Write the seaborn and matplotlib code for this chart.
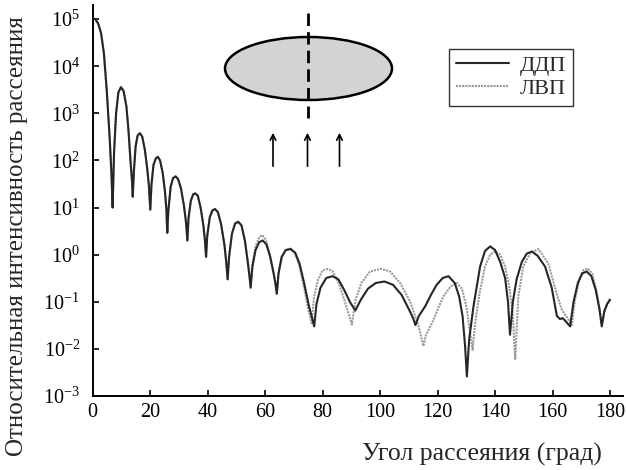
import numpy as np
import pandas as pd
import matplotlib
matplotlib.use('Agg')
import matplotlib.pyplot as plt
from matplotlib.patches import Ellipse
from matplotlib.ticker import NullLocator
import seaborn as sns

# Data (angle in degrees, relative intensity)
# both curves coincide up to ~55 degrees
angle_common = [0, 1, 2, 3, 4, 5, 6, 6.6, 7.0, 7.5, 8.2, 9.0, 9.9, 10.8, 11.8, 12.5, 13.2, 13.7, 14.0,
                14.4, 15.0, 15.7, 16.5, 17.3, 18.2, 19.0, 19.6, 20.1, 20.5, 21.2, 22.0, 22.7, 23.5, 24.4,
                25.2, 25.7, 26.0, 26.4, 27.2, 28.0, 28.9, 29.8, 30.8, 31.8, 32.5, 33.0, 33.4, 34.2, 35.0,
                35.7, 36.6, 37.6, 38.6, 39.1, 39.5, 39.9, 40.8, 41.7, 42.6, 43.6, 44.7, 45.9, 46.5, 47.0,
                47.5, 48.5, 49.6, 50.7, 51.8, 53.0, 54.0, 54.6, 55.0]
intensity_common = [1.05e5, 1.0e5, 8.0e4, 5.0e4, 1.8e4, 2.8e3, 2.8e2, 50, 10, 150, 1000, 2800, 3600, 3000,
                    1400, 450, 100, 40, 17, 60, 200, 340, 380, 320, 170, 70, 30, 9, 30, 80, 110, 120, 100,
                    55, 22, 9, 2.9, 9, 28, 42, 46, 40, 25, 11, 5, 2.0, 6, 14, 19, 20, 18, 10, 4, 2, 0.9,
                    2.5, 6.3, 8.7, 9.3, 8.0, 4.5, 1.6, 0.7, 0.3, 0.9, 2.8, 4.6, 5.0, 4.2, 2.0, 0.7, 0.35,
                    0.2]

angle_ddp_tail = [55.6, 56.7, 58.0, 59.2, 60.5, 61.8, 63.0, 63.6, 64.1, 64.7, 65.8, 67.2, 68.9, 70.5,
                  72.0, 73.6, 75.3, 76.4, 77.1, 77.9, 79.3, 81.3, 83.5, 85.5, 87.5, 89.5, 91.4, 93.3,
                  95.8, 98.5, 101.5, 104.5, 107.5, 110.0, 111.5, 112.3, 113.5, 115.7, 117.7, 119.7,
                  121.8, 123.8, 126.0, 127.5, 128.7, 129.6, 130.2, 131.0, 132.5, 134.8, 136.5, 138.3,
                  140.0, 141.8, 143.5, 144.5, 145.2, 146.2, 147.5, 149.3, 151.0, 152.8, 154.8, 157.4,
                  159.7, 161.5, 162.6, 163.5, 164.5, 166.1, 167.3, 168.8, 170.3, 171.9, 173.5, 175.0,
                  176.3, 177.1, 178.0, 179.0, 180.0]
intensity_ddp_tail = [0.55, 1.25, 1.85, 2.0, 1.65, 0.9, 0.4, 0.25, 0.15, 0.4, 0.9, 1.25, 1.32, 1.1,
                      0.65, 0.25, 0.08, 0.045, 0.03, 0.09, 0.2, 0.32, 0.35, 0.3, 0.18, 0.1, 0.065, 0.11,
                      0.19, 0.25, 0.27, 0.23, 0.14, 0.07, 0.045, 0.032, 0.05, 0.08, 0.14, 0.23, 0.32,
                      0.35, 0.25, 0.13, 0.05, 0.011, 0.0026, 0.016, 0.08, 0.56, 1.2, 1.5, 1.26, 0.7,
                      0.32, 0.1, 0.02, 0.1, 0.3, 0.7, 1.05, 1.17, 0.95, 0.56, 0.2, 0.05, 0.043, 0.045,
                      0.039, 0.03, 0.1, 0.25, 0.4, 0.44, 0.35, 0.18, 0.07, 0.03, 0.063, 0.09, 0.11]

angle_lvp_tail = [55.6, 56.7, 58.0, 59.0, 60.3, 61.7, 63.0, 63.6, 64.1, 64.7, 65.8, 67.2, 68.9, 70.5,
                  72.0, 73.6, 75.2, 76.2, 77.0, 78.3, 80.0, 81.7, 83.5, 85.6, 87.8, 89.3, 90.2, 91.5,
                  93.5, 96.5, 100.3, 103.5, 107.0, 110.5, 113.3, 115.1, 116.0, 118.5, 120.5, 122.0,
                  124.5, 126.7, 128.5, 130.0, 131.2, 132.2, 133.0, 134.5, 136.5, 138.3, 140.0, 141.8,
                  143.5, 145.0, 146.2, 147.0, 148.1, 149.8, 152.2, 155.1, 158.5, 161.4, 163.2, 165.5,
                  166.7, 167.8, 169.2, 170.7, 172.2, 173.8, 175.2, 176.4, 177.2, 178.0, 179.0, 180.0]
intensity_lvp_tail = [0.63, 1.5, 2.35, 2.6, 2.1, 1.0, 0.4, 0.25, 0.14, 0.4, 0.9, 1.26, 1.35, 1.05,
                      0.56, 0.2, 0.063, 0.035, 0.12, 0.28, 0.46, 0.5, 0.45, 0.25, 0.1, 0.05, 0.033,
                      0.11, 0.25, 0.44, 0.5, 0.44, 0.25, 0.1, 0.032, 0.0115, 0.02, 0.04, 0.08, 0.13,
                      0.21, 0.25, 0.19, 0.08, 0.025, 0.0095, 0.032, 0.14, 0.56, 1.0, 1.17, 1.0, 0.56,
                      0.2, 0.05, 0.0059, 0.13, 0.56, 1.07, 1.32, 0.66, 0.15, 0.068, 0.042, 0.032, 0.11,
                      0.28, 0.47, 0.51, 0.4, 0.18, 0.07, 0.032, 0.063, 0.09, 0.12]

series_labels = ['ДДП', 'ЛВП']
x_ticks = [0, 20, 40, 60, 80, 100, 120, 140, 160, 180]
y_ticks = [1e-3, 1e-2, 1e-1, 1e0, 1e1, 1e2, 1e3, 1e4, 1e5]

ddp = pd.DataFrame({'angle': angle_common + angle_ddp_tail,
                    'intensity': intensity_common + intensity_ddp_tail})
lvp = pd.DataFrame({'angle': angle_common + angle_lvp_tail,
                    'intensity': intensity_common + intensity_lvp_tail})

sns.set_style('ticks')
plt.rcParams['font.family'] = ['Liberation Serif', 'DejaVu Serif']
plt.rcParams['mathtext.fontset'] = 'stix'

W, H = 626, 470
fig = plt.figure(figsize=(W / 100, H / 100), dpi=100)
ax = fig.add_axes([92.5 / W, 1 - 396 / H, (623 - 92.5) / W, (396 - 5) / H])

sns.lineplot(data=ddp, x='angle', y='intensity', ax=ax, color='#262626', lw=1.5,
             label=series_labels[0], estimator=None, sort=False, zorder=3)
sns.lineplot(data=lvp, x='angle', y='intensity', ax=ax, color='#9a9a9a', lw=1.5,
             linestyle=(0, (1, 0.5)), label=series_labels[1], estimator=None, sort=False, zorder=2)

ax.set_yscale('log')
ax.set_xlim(0, 184.5)
ax.set_ylim(1e-3, 2e5)
ax.set_xticks(x_ticks)
ax.set_yticks(y_ticks)
ax.yaxis.set_minor_locator(NullLocator())
ax.tick_params(direction='in', length=4, width=1.2, labelsize=14.5, colors='black')
ax.tick_params(axis='y', pad=9)
ax.tick_params(axis='x', pad=5)
for s in ['top', 'right']:
    ax.spines[s].set_visible(False)
for s in ['left', 'bottom']:
    ax.spines[s].set_linewidth(1.4)
    ax.spines[s].set_color('black')

ax.set_xlabel('Угол рассеяния (град)', fontsize=18.5)
ax.set_ylabel('Относительная интенсивность рассеяния', fontsize=18)
ax.xaxis.set_label_coords(0.735, -0.12)
ax.yaxis.set_label_coords(-0.122, 0.41)

leg = ax.legend(loc='upper left', bbox_to_anchor=(449 / W, 1 - 49 / H), bbox_transform=fig.transFigure,
                borderaxespad=0, fontsize=16, frameon=True, fancybox=False, handlelength=2.4,
                handletextpad=0.5, labelspacing=0.1, borderpad=0.3)
leg.get_frame().set_edgecolor('black')
leg.get_frame().set_linewidth(1.0)
for line in leg.get_lines():
    line.set_linewidth(1.5)

# inset drawing: ellipse, dashed axis and incident arrows (pixel coordinates)
ins = fig.add_axes([210 / W, 1 - 180 / H, 200 / W, 170 / H])
ins.set_xlim(210, 410)
ins.set_ylim(180, 10)
ins.axis('off')
ins.add_patch(Ellipse((308.5, 68.5), 167, 63, facecolor='#d3d3d3', edgecolor='black', lw=1.8))
ins.plot([308, 308], [13, 118], color='black', lw=2.0, linestyle=(0, (4.5, 2.2)))
for ax_x in [273, 307.5, 339.5]:
    ins.annotate('', xy=(ax_x, 130), xytext=(ax_x, 169),
                 arrowprops=dict(arrowstyle='->', lw=1.2, color='black', mutation_scale=10))

fig.savefig('out.png', dpi=100)
